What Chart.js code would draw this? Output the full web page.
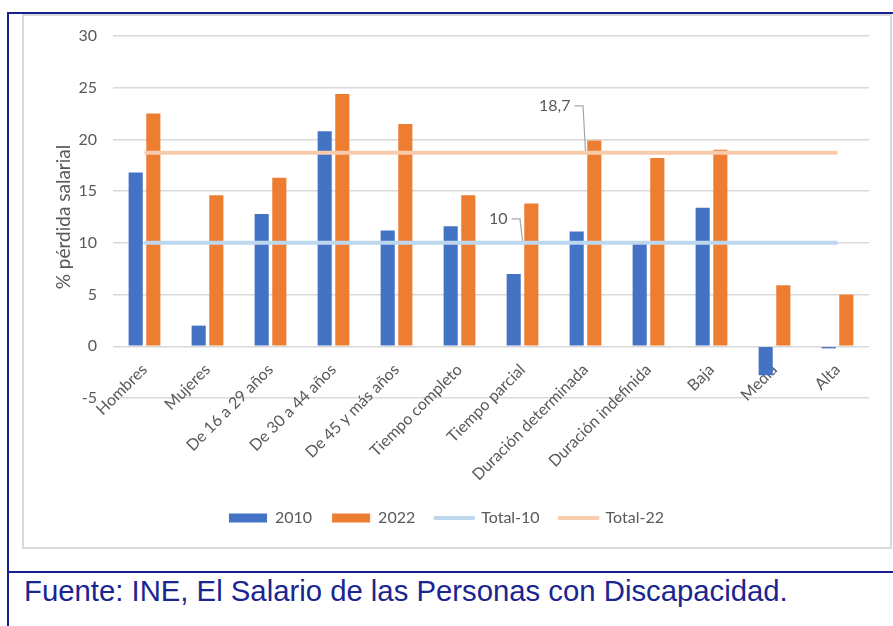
<!DOCTYPE html>
<html>
<head>
<meta charset="utf-8">
<script src="https://cdn.jsdelivr.net/npm/chart.js@4.4.1/dist/chart.umd.min.js"></script>
<style>
    html, body { margin: 0; padding: 0; background: #fff; }
    body { width: 893px; height: 626px; position: relative; overflow: hidden; }
    .blue { position: absolute; background: #1a1f8f; }
    #box { position: absolute; left: 22px; top: 14px; width: 866px; height: 531px; border: 2px solid #d9d9d9; }
    #chart { position: absolute; left: 24px; top: 16px; }
    #source { position: absolute; left: 24px; top: 574px; font: 29.3px 'Liberation Sans', Arial, sans-serif; color: #1a2590; white-space: nowrap; }
</style>
</head>
<body>
<div class="blue" style="left:7px; top:12px; width:886px; height:2px"></div>
<div class="blue" style="left:7px; top:12px; width:2px; height:614px"></div>
<div class="blue" style="left:7px; top:571px; width:886px; height:2px"></div>
<div id="box"></div>
<canvas id="chart" width="865" height="530"></canvas>
<div id="source">Fuente: INE, El Salario de las Personas con Discapacidad.</div>
<script>
Chart.defaults.font.family = "Lato, 'Noto Sans', sans-serif";
Chart.defaults.font.size = 16;
Chart.defaults.color = '#595959';

const categories = [
    'Hombres', 'Mujeres', 'De 16 a 29 años', 'De 30 a 44 años', 'De 45 y más años',
    'Tiempo completo', 'Tiempo parcial', 'Duración determinada', 'Duración indefinida',
    'Baja', 'Media', 'Alta'
];
const values2010 = [16.8, 2.0, 12.8, 20.8, 11.2, 11.6, 7.0, 11.1, 9.9, 13.4, -2.8, -0.2];
const values2022 = [22.5, 14.6, 16.3, 24.4, 21.5, 14.6, 13.8, 19.9, 18.2, 19.0, 5.9, 5.0];
const total10 = categories.map(() => 10);
const total22 = categories.map(() => 18.7);
const yTicks = { min: -5, max: 30, step: 5 };

// etiquetas con línea guía, como en Excel
const leaderLabels = {
    id: 'leader_labels',
    afterDatasetsDraw(chart, args, opts) {
        const { ctx } = chart;
        ctx.save();
        opts.items.forEach(item => {
            const meta = chart.getDatasetMeta(item.dataset);
            const pt = meta.data[item.index];
            const value = chart.data.datasets[item.dataset].data[item.index];
            const ly = pt.y + item.dy;
            ctx.strokeStyle = '#a6a6a6';
            ctx.lineWidth = 1.2;
            ctx.beginPath();
            ctx.moveTo(pt.x - 11, ly);
            ctx.lineTo(pt.x - 2.5, ly);
            ctx.lineTo(pt.x, pt.y - 2);
            ctx.stroke();
            ctx.fillStyle = '#595959';
            ctx.font = "16px Lato, 'Noto Sans', sans-serif";
            ctx.textAlign = 'right';
            ctx.textBaseline = 'middle';
            ctx.fillText(String(value).replace('.', ','), pt.x - 15, ly);
        });
        ctx.restore();
    }
};

new Chart(document.getElementById('chart'), {
    data: {
        labels: categories,
        datasets: [
            { type: 'bar', label: '2010', data: values2010, backgroundColor: '#4472C4', order: 1,
              categoryPercentage: 0.56, barPercentage: 0.8 },
            { type: 'bar', label: '2022', data: values2022, backgroundColor: '#ED7D31', order: 1,
              categoryPercentage: 0.56, barPercentage: 0.8 },
            { type: 'line', label: 'Total-10', data: total10, borderColor: '#BDD7EE', borderWidth: 4,
              pointRadius: 0, order: 0 },
            { type: 'line', label: 'Total-22', data: total22, borderColor: '#F8CBAD', borderWidth: 4,
              pointRadius: 0, order: 0 }
        ]
    },
    options: {
        responsive: false,
        animation: false,
        layout: { padding: { top: 20, right: 20, bottom: 10, left: 0 } },
        scales: {
            x: {
                position: { y: 0 },
                grid: { display: false },
                border: { display: false },
                ticks: { autoSkip: false, minRotation: 45, maxRotation: 45, padding: 6 }
            },
            // eje vacío que reserva el hueco de las etiquetas giradas
            xSpace: {
                type: 'category',
                position: 'bottom',
                grid: { display: false },
                border: { display: false },
                ticks: { display: false },
                afterFit: s => { s.height = 92; }
            },
            y: {
                min: yTicks.min,
                max: yTicks.max,
                ticks: { stepSize: yTicks.step, padding: 16 },
                grid: { color: '#d9d9d9', lineWidth: 1.5, drawTicks: false },
                border: { display: false },
                title: { display: true, text: '% pérdida salarial', font: { size: 19 }, padding: { top: 28, bottom: 0 } },
                afterFit: s => { s.width = 89; s.paddingTop = 0; }
            }
        },
        plugins: {
            tooltip: { enabled: false },
            legend: {
                position: 'bottom',
                labels: {
                    usePointStyle: true,
                    pointStyleWidth: 38,
                    boxHeight: 9,
                    padding: 20,
                    generateLabels: chart => chart.data.datasets.map((ds, i) => {
                        const isLine = ds.type === 'line';
                        const c = isLine ? ds.borderColor : ds.backgroundColor;
                        return {
                            text: ds.label, datasetIndex: i, hidden: false,
                            fillStyle: c, strokeStyle: c, fontColor: '#595959',
                            lineWidth: isLine ? 4 : 0, lineCap: 'round',
                            pointStyle: isLine ? 'line' : 'rect'
                        };
                    })
                }
            },
            leader_labels: {
                items: [
                    { dataset: 3, index: 7, dy: -47 },
                    { dataset: 2, index: 6, dy: -24 }
                ]
            }
        }
    },
    plugins: [leaderLabels]
});
</script>
</body>
</html>
